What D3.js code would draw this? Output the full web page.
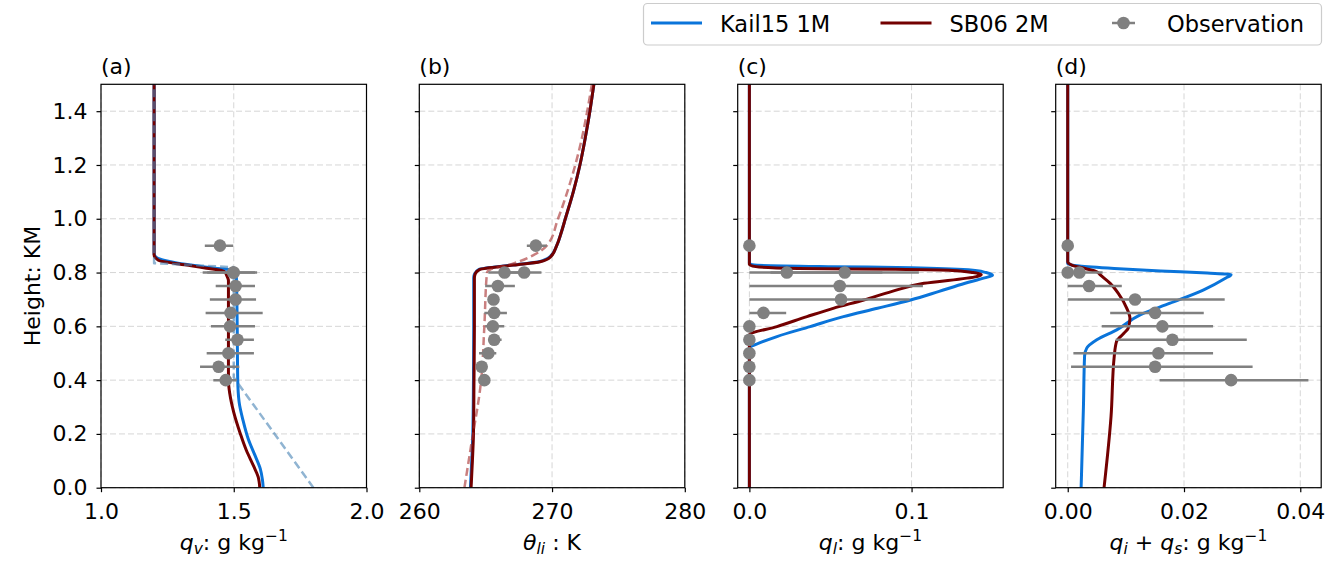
<!DOCTYPE html>
<html>
<head>
<meta charset="utf-8">
<script src="https://cdn.jsdelivr.net/npm/d3@7"></script>
<style>
  body { margin: 0; background: #fff; }
  text { font-family: "DejaVu Sans", sans-serif; fill: #000; }
</style>
</head>
<body>
<svg id="chart" width="1338" height="561"></svg>
<script>
// ---- observations (same heights in every panel) ----
const obsHeight = [0.9, 0.8, 0.8, 0.75, 0.7, 0.65, 0.6, 0.55, 0.5, 0.45, 0.4];

const qvObs   = [1.448, 1.498, 1.500, 1.507, 1.507, 1.488, 1.486, 1.514, 1.480, 1.443, 1.470];
const qvLo    = [1.391, 1.383, 1.400, 1.432, 1.410, 1.394, 1.414, 1.468, 1.398, 1.373, 1.423];
const qvHi    = [1.498, 1.588, 1.580, 1.580, 1.584, 1.609, 1.580, 1.576, 1.576, 1.521, 1.511];

const thObs   = [268.78, 266.42, 267.9, 265.92, 265.59, 265.64, 265.54, 265.64, 265.2, 264.7, 264.9];
const thLo    = [268.1, 265.2, 266.6, 264.96, 265.4, 264.9, 264.96, 265.2, 264.5, 264.6, 264.8];
const thHi    = [269.6, 267.6, 269.2, 267.2, 265.8, 266.6, 266.4, 266.2, 265.8, 264.8, 265.0];

const qlObs   = [0, 0.0231, 0.0588, 0.0557, 0.0565, 0.0087, 0, 0, 0, 0, 0];
const qlLo    = [0, 0, 0.013, 0, 0, 0, 0, 0, 0, 0, 0];
const qlHi    = [0, 0.082, 0.1045, 0.107, 0.0988, 0.0227, 0, 0, 0, 0, 0];

const qisObs  = [0, 0, 0.002, 0.00367, 0.01158, 0.01503, 0.01628, 0.018, 0.0156, 0.01503, 0.0281];
const qisLo   = [0, 0, 0, 0, 0, 0.0073, 0.00585, 0.00826, 0.00097, 0.00057, 0.0158];
const qisHi   = [0, 0, 0.006, 0.0093, 0.027, 0.0234, 0.025, 0.0308, 0.025, 0.0318, 0.0414];

// ---- model profiles (height in km, value) ----
// (a) water vapour
const kailQvH = [0, 0.03, 0.07, 0.12, 0.18, 0.25, 0.32, 0.4, 0.6, 0.78, 0.8, 0.81, 0.815, 0.825, 0.835, 0.845, 0.855, 0.87, 1.5];
const kailQv  = [1.611, 1.608, 1.6, 1.58, 1.555, 1.535, 1.52, 1.515, 1.513, 1.51, 1.505, 1.49, 1.44, 1.36, 1.29, 1.24, 1.21, 1.2, 1.2];
const sbQvH   = [0, 0.04, 0.08, 0.14, 0.2, 0.28, 0.35, 0.4, 0.6, 0.77, 0.79, 0.8, 0.807, 0.816, 0.825, 0.834, 0.846, 0.865, 1.5];
const sbQv    = [1.598, 1.592, 1.575, 1.547, 1.525, 1.5, 1.485, 1.48, 1.48, 1.48, 1.473, 1.468, 1.456, 1.397, 1.34, 1.28, 1.216, 1.2, 1.2];
const initQvH = [0, 0.41, 0.82, 0.835, 1.5];
const initQv  = [1.8, 1.5, 1.5, 1.2, 1.2];

// (b) liquid-ice potential temperature
const thH     = [0, 0.1, 0.2, 0.4, 0.6, 0.78, 0.794, 0.812, 0.828, 0.84, 0.859, 0.9, 0.95, 1.0, 1.1, 1.2, 1.3, 1.4, 1.5];
const kailTh  = [263.85, 263.95, 264.03, 264.08, 264.1, 264.1, 264.15, 264.5, 267.0, 269.0, 269.85, 270.35, 270.7, 271.0, 271.6, 272.1, 272.5, 272.85, 273.15];
const sbTh    = [263.9, 264.0, 264.08, 264.12, 264.15, 264.15, 264.2, 264.57, 267.1, 269.1, 269.9, 270.35, 270.7, 271.0, 271.6, 272.1, 272.5, 272.85, 273.15];
const initThH = [0, 0.15, 0.4, 0.6, 0.8, 0.81, 0.834, 0.865, 0.9, 1.0, 1.1, 1.2, 1.3, 1.4, 1.5];
const initTh  = [263.4, 263.88, 264.66, 264.9, 265.1, 265.3, 267.1, 268.6, 269.6, 270.45, 271.15, 271.75, 272.25, 272.65, 273.0];

// (c) cloud liquid
const kailQlH = [0, 0.52, 0.525, 0.54, 0.562, 0.599, 0.636, 0.667, 0.698, 0.73, 0.76, 0.78, 0.79, 0.8, 0.81, 0.818, 0.822, 0.828, 0.835, 1.5];
const kailQl  = [0, 0, 0.001, 0.007, 0.017, 0.0375, 0.058, 0.079, 0.0994, 0.117, 0.133, 0.145, 0.1499, 0.146, 0.135, 0.1, 0.05, 0.003, 0, 0];
const sbQlH   = [0, 0.568, 0.599, 0.636, 0.667, 0.698, 0.73, 0.76, 0.785, 0.792, 0.8, 0.808, 0.812, 0.815, 0.822, 0.83, 1.5];
const sbQl    = [0, 0, 0.017, 0.0355, 0.0517, 0.0705, 0.088, 0.1076, 0.14, 0.143, 0.138, 0.125, 0.09, 0.03, 0.004, 0, 0];

// (d) ice + snow
const kailQisH = [0, 0.3, 0.49, 0.519, 0.55, 0.587, 0.643, 0.686, 0.735, 0.78, 0.792, 0.798, 0.806, 0.815, 0.824, 0.832, 1.5];
const kailQis  = [0.0023, 0.0027, 0.0029, 0.00327, 0.005, 0.00843, 0.01246, 0.0176, 0.0233, 0.0272, 0.0281, 0.024, 0.016, 0.008, 0.002, 0, 0];
const sbQisH   = [0, 0.265, 0.488, 0.544, 0.575, 0.593, 0.63, 0.667, 0.723, 0.76, 0.791, 0.803, 0.815, 0.828, 0.84, 1.5];
const sbQis    = [0.00625, 0.00745, 0.008, 0.0084, 0.0097, 0.0104, 0.0107, 0.01016, 0.0087, 0.0073, 0.0056, 0.005, 0.003, 0.0007, 0, 0];

const yTicks = [0, 0.2, 0.4, 0.6, 0.8, 1.0, 1.2, 1.4];

const blue = "#0a74da", red = "#730000", grey = "#808080";

const svg = d3.select("#chart");
const plotTop = 84.3, plotBottom = 487.7, panelW = 265.5;
const y = d3.scaleLinear().domain([0, 1.5]).range([plotBottom, plotTop]);

const zip = (h, v) => h.map((d, i) => [v[i], d]);

const panels = [
  { tag: "(a)", left: 101, domain: [1.0, 2.0], ticks: [1.0, 1.5, 2.0], fmt: ".1f",
    label: [["q", "i"], ["v", "is"], [": g kg", ""], ["\u22121", "sup"]],
    lines: [
      { d: zip(kailQvH, kailQv), color: blue },
      { d: zip(sbQvH, sbQv), color: red },
      { d: zip(initQvH, initQv), color: "steelblue", dash: true, linear: true }
    ],
    obs: [qvObs, qvLo, qvHi] },
  { tag: "(b)", left: 419.3, domain: [260, 280], ticks: [260, 270, 280], fmt: "d",
    label: [["\u03b8", "i"], ["li", "is"], [" : K", ""]],
    lines: [
      { d: zip(thH, kailTh), color: blue },
      { d: zip(thH, sbTh), color: red },
      { d: zip(initThH, initTh), color: "brown", dash: true }
    ],
    obs: [thObs, thLo, thHi] },
  { tag: "(c)", left: 737.7, domain: [-0.0072, 0.1565], ticks: [0, 0.1], fmt: ".1f",
    label: [["q", "i"], ["l", "is"], [": g kg", ""], ["\u22121", "sup"]],
    lines: [
      { d: zip(kailQlH, kailQl), color: blue },
      { d: zip(sbQlH, sbQl), color: red }
    ],
    obs: [qlObs, qlLo, qlHi] },
  { tag: "(d)", left: 1055.7, domain: [-0.00207, 0.0436], ticks: [0, 0.02, 0.04], fmt: ".2f",
    label: [["q", "i"], ["i", "is"], [" + ", ""], ["q", "i"], ["s", "is"], [": g kg", ""], ["\u22121", "sup"]],
    lines: [
      { d: zip(kailQisH, kailQis), color: blue },
      { d: zip(sbQisH, sbQis), color: red }
    ],
    obs: [qisObs, qisLo, qisHi] }
];

panels.forEach((p, k) => {
  const x = d3.scaleLinear().domain(p.domain).range([p.left, p.left + panelW]);
  const g = svg.append("g");

  g.append("clipPath").attr("id", "clip" + k)
    .append("rect").attr("x", p.left).attr("y", plotTop).attr("width", panelW).attr("height", plotBottom - plotTop);

  // grid
  g.selectAll(".gx").data(p.ticks).join("line")
    .attr("x1", d => x(d)).attr("x2", d => x(d)).attr("y1", plotTop).attr("y2", plotBottom)
    .attr("stroke", "#d6d6d6").attr("stroke-dasharray", "6,3");
  g.selectAll(".gy").data(yTicks).join("line")
    .attr("x1", p.left).attr("x2", p.left + panelW).attr("y1", d => y(d)).attr("y2", d => y(d))
    .attr("stroke", "#d6d6d6").attr("stroke-dasharray", "6,3");

  const plot = g.append("g").attr("clip-path", `url(#clip${k})`);

  p.lines.forEach(l => {
    const gen = d3.line().x(d => x(d[0])).y(d => y(d[1]))
      .curve(l.linear ? d3.curveLinear : d3.curveMonotoneY);
    plot.append("path").attr("d", gen(l.d)).attr("fill", "none")
      .attr("stroke", l.color)
      .attr("stroke-width", l.dash ? 2.5 : 3)
      .attr("stroke-opacity", l.dash ? 0.6 : 1)
      .attr("stroke-dasharray", l.dash ? "8,4" : null)
      .attr("stroke-linejoin", "round");
  });

  // observations with x error bars
  const [ov, lo, hi] = p.obs;
  plot.selectAll(".err").data(obsHeight).join("line")
    .attr("x1", (d, i) => x(lo[i])).attr("x2", (d, i) => x(hi[i]))
    .attr("y1", d => y(d)).attr("y2", d => y(d))
    .attr("stroke", grey).attr("stroke-width", 2.5);
  plot.selectAll(".pt").data(obsHeight).join("circle")
    .attr("cx", (d, i) => x(ov[i])).attr("cy", d => y(d)).attr("r", 6.3)
    .attr("fill", grey);

  // axes
  const ax = g.append("g").attr("transform", `translate(0,${plotBottom})`)
    .call(d3.axisBottom(x).tickValues(p.ticks).tickFormat(d3.format(p.fmt)).tickSize(4.5).tickPadding(11));
  const ay = g.append("g").attr("transform", `translate(${p.left},0)`)
    .call(d3.axisLeft(y).tickValues(yTicks).tickFormat(k === 0 ? d3.format(".1f") : () => "")
      .tickSize(4.5).tickPadding(9));
  [ax, ay].forEach(a => {
    a.select(".domain").remove();
    a.selectAll("line").attr("stroke", "#000").attr("stroke-width", 1.2);
    a.selectAll("text").style("font-size", "22px").style("font-family", "DejaVu Sans");
  });

  g.append("rect").attr("x", p.left).attr("y", plotTop).attr("width", panelW).attr("height", plotBottom - plotTop)
    .attr("fill", "none").attr("stroke", "#000").attr("stroke-width", 1.2);

  g.append("text").attr("x", p.left).attr("y", 74).style("font-size", "22px").text(p.tag);

  const lab = g.append("text").attr("x", p.left + panelW / 2).attr("y", 550)
    .attr("text-anchor", "middle").style("font-size", "22px");
  p.label.forEach(([t, s]) => {
    const ts = lab.append("tspan").text(t);
    if (s === "i") ts.style("font-style", "italic");
    if (s === "is") ts.style("font-style", "italic").style("font-size", "15.5px").attr("baseline-shift", "-4");
    if (s === "sup") ts.style("font-size", "15.5px").attr("baseline-shift", "9");
  });
});

svg.append("text").attr("transform", "translate(40,286) rotate(-90)")
  .attr("text-anchor", "middle").style("font-size", "22px").text("Height: KM");

// legend
const leg = svg.append("g");
leg.append("rect").attr("x", 643.5).attr("y", 3.5).attr("width", 678).attr("height", 41.5).attr("rx", 4)
  .attr("fill", "#fff").attr("stroke", "#cccccc").attr("stroke-width", 1.2);
const legItems = [
  { name: "Kail15 1M", color: blue, x: 651 },
  { name: "SB06 2M", color: red, x: 880.5 },
  { name: "Observation", color: grey, x: 1112, obs: true }
];
legItems.forEach(it => {
  if (it.obs) {
    leg.append("line").attr("x1", it.x).attr("x2", it.x + 23).attr("y1", 23).attr("y2", 23)
      .attr("stroke", grey).attr("stroke-width", 2.5);
    leg.append("circle").attr("cx", it.x + 11.5).attr("cy", 23).attr("r", 6.3).attr("fill", grey);
    leg.append("text").attr("x", it.x + 55).attr("y", 31.5).style("font-size", "22.5px").text(it.name);
  } else {
    leg.append("line").attr("x1", it.x).attr("x2", it.x + 51).attr("y1", 23).attr("y2", 23)
      .attr("stroke", it.color).attr("stroke-width", 3);
    leg.append("text").attr("x", it.x + 69).attr("y", 31.5).style("font-size", "22.5px").text(it.name);
  }
});
</script>
</body>
</html>
